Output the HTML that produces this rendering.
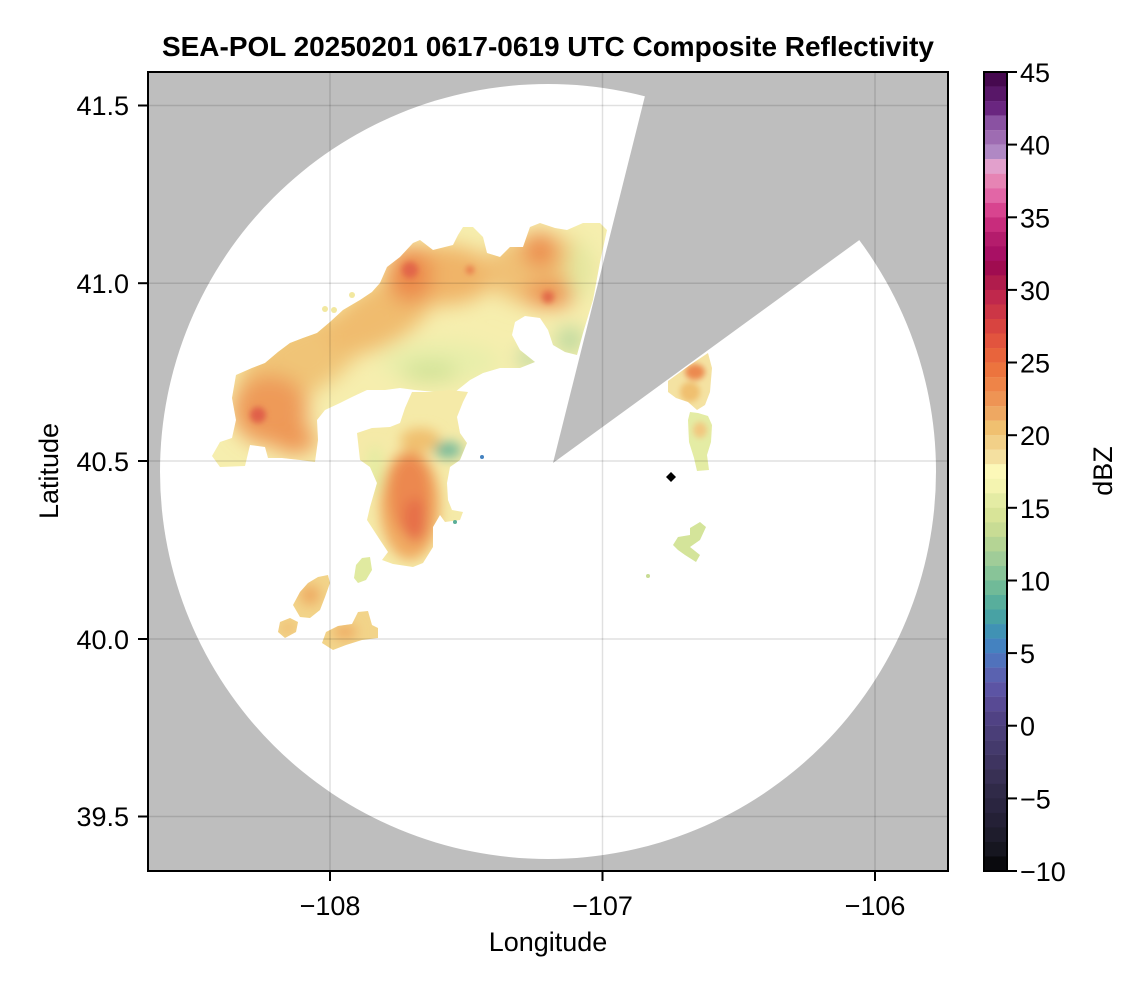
<!DOCTYPE html>
<html>
<head>
<meta charset="utf-8">
<style>
html,body{margin:0;padding:0;background:#fff;}
svg{display:block;}
text{font-family:"Liberation Sans",Arial,sans-serif;fill:#000;}
</style>
</head>
<body>
<svg width="1146" height="990" viewBox="0 0 1146 990" xmlns="http://www.w3.org/2000/svg">
<defs>
  <clipPath id="plot"><rect x="148" y="72" width="800" height="799"/></clipPath>
  <filter id="b10" x="-50%" y="-50%" width="200%" height="200%"><feGaussianBlur stdDeviation="10"/></filter>
  <filter id="b6" x="-50%" y="-50%" width="200%" height="200%"><feGaussianBlur stdDeviation="6"/></filter>
  <filter id="b3" x="-50%" y="-50%" width="200%" height="200%"><feGaussianBlur stdDeviation="3"/></filter>
  <clipPath id="cN"><polygon points="236,375 252,368 265,363 278,352 290,343 303,338 317,333 330,322 343,310 360,300 372,292 380,283 387,267 400,257 413,243 420,240 433,250 445,247 453,245 458,235 463,227 473,227 483,237 487,253 500,257 510,247 523,247 530,227 540,223 555,228 567,230 583,223 600,223 607,230 600,262 593,300 583,333 577,355 565,352 553,345 548,330 540,318 525,316 515,322 512,335 520,350 535,362 520,368 500,368 483,373 470,380 455,392 435,392 415,390 400,388 385,390 367,390 352,397 340,403 325,410 317,420 318,440 315,462 300,460 282,458 268,458 265,447 250,445 245,466 220,467 212,456 220,442 232,438 236,420 232,398"/></clipPath>
  <clipPath id="cC"><polygon points="357,433 372,428 390,427 400,423 405,408 412,392 430,392 450,390 468,392 463,402 457,417 460,433 467,443 460,460 450,467 447,483 448,500 452,510 463,512 460,520 445,522 440,515 433,527 433,547 423,563 413,567 393,564 382,560 388,552 380,540 367,520 370,507 377,483 370,467 360,460"/></clipPath>
  <clipPath id="cR1"><polygon points="668,381 690,365 708,353 712,368 710,392 705,405 697,410 688,402 676,398 668,392"/></clipPath>
  <clipPath id="cSW"><polygon points="300,617 293,605 300,592 308,583 318,577 328,575 330,583 325,597 320,610 310,618"/><polygon points="278,632 280,622 290,618 298,622 296,632 285,638"/><polygon points="322,643 326,632 338,626 352,624 358,612 368,611 372,625 378,628 378,638 362,640 346,645 333,650"/></clipPath>
</defs>

<!-- Title -->
<text x="548" y="56" text-anchor="middle" font-size="28" font-weight="bold" textLength="772" lengthAdjust="spacingAndGlyphs">SEA-POL 20250201 0617-0619 UTC Composite Reflectivity</text>

<!-- Plot area -->
<g clip-path="url(#plot)">
  <rect x="148" y="72" width="800" height="799" fill="#bebebe"/>
  <ellipse cx="548" cy="471.5" rx="388" ry="387.5" fill="#ffffff"/>
  <polygon points="553,463 651,72 948,72 948,175.5" fill="#bebebe"/>

  <!-- North band -->
  <g clip-path="url(#cN)">
    <rect x="200" y="210" width="420" height="270" fill="#f6eeae"/>
    <g filter="url(#b10)">
      <ellipse cx="300" cy="360" rx="70" ry="35" transform="rotate(-30 300 360)" fill="#f0c477"/>
      <ellipse cx="380" cy="315" rx="60" ry="30" transform="rotate(-30 380 315)" fill="#f0bc6e"/>
      <ellipse cx="440" cy="275" rx="55" ry="30" fill="#f0b468"/>
      <ellipse cx="540" cy="270" rx="55" ry="35" fill="#f0c074"/>
      <ellipse cx="270" cy="410" rx="38" ry="35" fill="#ee9a58"/>
      <ellipse cx="295" cy="440" rx="22" ry="14" fill="#ee9654"/>
      <ellipse cx="410" cy="275" rx="22" ry="28" fill="#ec8a4c"/>
      <ellipse cx="540" cy="250" rx="16" ry="18" fill="#ec8a4c"/>
      <ellipse cx="550" cy="295" rx="25" ry="12" fill="#ec8a4c"/>
      <ellipse cx="440" cy="362" rx="60" ry="20" fill="#e8eeaa"/>
      <ellipse cx="430" cy="372" rx="28" ry="10" fill="#cfe296"/>
      <ellipse cx="580" cy="270" rx="12" ry="30" fill="#e2eaa2"/>
      <ellipse cx="570" cy="340" rx="12" ry="12" fill="#a8d29a"/>
      <ellipse cx="530" cy="358" rx="12" ry="6" fill="#8cc69a"/>
    </g>
    <g filter="url(#b3)">
      <circle cx="258" cy="415" r="8" fill="#e0604a"/>
      <circle cx="410" cy="270" r="8" fill="#e2664a"/>
      <circle cx="548" cy="297" r="6" fill="#e26a4a"/>
      <circle cx="470" cy="270" r="4" fill="#e8764a"/>
    </g>
  </g>
  <circle cx="325" cy="309" r="3" fill="#f2e8a0"/>
  <circle cx="334" cy="310" r="3" fill="#f2e8a0"/>
  <circle cx="352" cy="295" r="3" fill="#f2e8a0"/>

  <!-- Central blob -->
  <g clip-path="url(#cC)">
    <rect x="350" y="385" width="125" height="190" fill="#f5eaa8"/>
    <g filter="url(#b6)">
      <ellipse cx="410" cy="505" rx="30" ry="55" fill="#f0aa62"/>
      <ellipse cx="410" cy="495" rx="20" ry="40" fill="#ec8850"/>
      <ellipse cx="415" cy="520" rx="12" ry="22" fill="#e6704a"/>
      <ellipse cx="420" cy="440" rx="20" ry="12" fill="#f0c070"/>
      <ellipse cx="448" cy="450" rx="14" ry="8" fill="#70b89a"/>
      <ellipse cx="375" cy="470" rx="8" ry="25" fill="#e4eca2"/>
    </g>
  </g>
  <circle cx="455" cy="522" r="2" fill="#5aae98"/>
  <circle cx="482" cy="457" r="2" fill="#4482c0"/>

  <!-- Southwest fragments -->
  <g clip-path="url(#cSW)">
    <rect x="270" y="570" width="115" height="85" fill="#f2d48a"/>
    <g filter="url(#b6)">
      <ellipse cx="310" cy="595" rx="10" ry="10" fill="#eeaa62"/>
      <ellipse cx="345" cy="632" rx="12" ry="7" fill="#eeaa62"/>
      <ellipse cx="288" cy="628" rx="6" ry="5" fill="#eeb066"/>
    </g>
  </g>
  <polygon points="354,578 356,565 362,558 370,557 372,570 366,580 358,583" fill="#e0eaa0"/>

  <!-- Right side pieces -->
  <g clip-path="url(#cR1)">
    <rect x="660" y="345" width="60" height="70" fill="#f4e2a2"/>
    <g filter="url(#b3)">
      <ellipse cx="695" cy="372" rx="10" ry="8" fill="#ec8a50"/>
      <ellipse cx="690" cy="392" rx="10" ry="10" fill="#f0c070"/>
    </g>
  </g>
  <polygon points="688,420 690,412 698,413 708,416 712,425 711,442 707,455 709,470 697,471 694,458 689,442" fill="#e4eca4"/>
  <ellipse cx="700" cy="430" rx="7" ry="8" fill="#f2c880" filter="url(#b3)"/>
  <polygon points="673,545 678,537 690,535 690,528 700,522 706,527 700,540 690,547 700,555 696,562 685,555 678,550" fill="#d4e49a"/>
  <circle cx="648" cy="576" r="2" fill="#c8dc94"/>

  <!-- Marker -->
  <polygon points="671,472 676,477 671,482 666,477" fill="#000"/>

  <!-- Grid -->
  <g stroke="rgba(0,0,0,0.12)" stroke-width="1.5">
    <line x1="330" y1="72" x2="330" y2="871"/>
    <line x1="602.5" y1="72" x2="602.5" y2="871"/>
    <line x1="875" y1="72" x2="875" y2="871"/>
    <line x1="148" y1="105.5" x2="948" y2="105.5"/>
    <line x1="148" y1="283.2" x2="948" y2="283.2"/>
    <line x1="148" y1="461" x2="948" y2="461"/>
    <line x1="148" y1="639" x2="948" y2="639"/>
    <line x1="148" y1="816.5" x2="948" y2="816.5"/>
  </g>
</g>
<rect x="148" y="72" width="800" height="799" fill="none" stroke="#000" stroke-width="2"/>

<!-- Axis ticks -->
<g stroke="#000" stroke-width="2">
  <line x1="138" y1="105.5" x2="148" y2="105.5"/>
  <line x1="138" y1="283.2" x2="148" y2="283.2"/>
  <line x1="138" y1="461" x2="148" y2="461"/>
  <line x1="138" y1="639" x2="148" y2="639"/>
  <line x1="138" y1="816.5" x2="148" y2="816.5"/>
  <line x1="330" y1="871" x2="330" y2="881"/>
  <line x1="602.5" y1="871" x2="602.5" y2="881"/>
  <line x1="875" y1="871" x2="875" y2="881"/>
</g>
<g font-size="27" text-anchor="end">
  <text x="129" y="115">41.5</text>
  <text x="129" y="293">41.0</text>
  <text x="129" y="471">40.5</text>
  <text x="129" y="649">40.0</text>
  <text x="129" y="826">39.5</text>
</g>
<g font-size="27" text-anchor="middle">
  <text x="330" y="915">−108</text>
  <text x="602.5" y="915">−107</text>
  <text x="875" y="915">−106</text>
  <text x="548" y="951">Longitude</text>
</g>
<text transform="translate(58,471) rotate(-90)" text-anchor="middle" font-size="27">Latitude</text>

<!-- Colorbar -->
<g>
  <rect x="984" y="72.0" width="23" height="14.7" fill="#46094f"/>
  <rect x="984" y="86.53" width="23" height="14.7" fill="#581768"/>
  <rect x="984" y="101.05" width="23" height="14.7" fill="#6a2680"/>
  <rect x="984" y="115.58" width="23" height="14.7" fill="#8a52a2"/>
  <rect x="984" y="130.11" width="23" height="14.7" fill="#9e6cb2"/>
  <rect x="984" y="144.64" width="23" height="14.7" fill="#b088c4"/>
  <rect x="984" y="159.16" width="23" height="14.7" fill="#e2a0cc"/>
  <rect x="984" y="173.69" width="23" height="14.7" fill="#e684b4"/>
  <rect x="984" y="188.22" width="23" height="14.7" fill="#e266a6"/>
  <rect x="984" y="202.75" width="23" height="14.7" fill="#d8448f"/>
  <rect x="984" y="217.27" width="23" height="14.7" fill="#c82c7c"/>
  <rect x="984" y="231.8" width="23" height="14.7" fill="#b41c6c"/>
  <rect x="984" y="246.33" width="23" height="14.7" fill="#a81064"/>
  <rect x="984" y="260.85" width="23" height="14.7" fill="#a00c50"/>
  <rect x="984" y="275.38" width="23" height="14.7" fill="#b01c4c"/>
  <rect x="984" y="289.91" width="23" height="14.7" fill="#c0284c"/>
  <rect x="984" y="304.44" width="23" height="14.7" fill="#cc3646"/>
  <rect x="984" y="318.96" width="23" height="14.7" fill="#d84440"/>
  <rect x="984" y="333.49" width="23" height="14.7" fill="#e2543e"/>
  <rect x="984" y="348.02" width="23" height="14.7" fill="#e8643c"/>
  <rect x="984" y="362.55" width="23" height="14.7" fill="#ec743e"/>
  <rect x="984" y="377.07" width="23" height="14.7" fill="#ee8448"/>
  <rect x="984" y="391.6" width="23" height="14.7" fill="#ee9454"/>
  <rect x="984" y="406.13" width="23" height="14.7" fill="#eea862"/>
  <rect x="984" y="420.65" width="23" height="14.7" fill="#f0c070"/>
  <rect x="984" y="435.18" width="23" height="14.7" fill="#f2d088"/>
  <rect x="984" y="449.71" width="23" height="14.7" fill="#f4e0a0"/>
  <rect x="984" y="464.24" width="23" height="14.7" fill="#fcf8b8"/>
  <rect x="984" y="478.76" width="23" height="14.7" fill="#f4f4b0"/>
  <rect x="984" y="493.29" width="23" height="14.7" fill="#e4eca4"/>
  <rect x="984" y="507.82" width="23" height="14.7" fill="#d8e498"/>
  <rect x="984" y="522.35" width="23" height="14.7" fill="#c8dc94"/>
  <rect x="984" y="536.87" width="23" height="14.7" fill="#b4d494"/>
  <rect x="984" y="551.4" width="23" height="14.7" fill="#a0cc98"/>
  <rect x="984" y="565.93" width="23" height="14.7" fill="#88c498"/>
  <rect x="984" y="580.45" width="23" height="14.7" fill="#70ba98"/>
  <rect x="984" y="594.98" width="23" height="14.7" fill="#58ae9c"/>
  <rect x="984" y="609.51" width="23" height="14.7" fill="#48a2a4"/>
  <rect x="984" y="624.04" width="23" height="14.7" fill="#4092b4"/>
  <rect x="984" y="638.56" width="23" height="14.7" fill="#4482c0"/>
  <rect x="984" y="653.09" width="23" height="14.7" fill="#5072bc"/>
  <rect x="984" y="667.62" width="23" height="14.7" fill="#5a62b0"/>
  <rect x="984" y="682.15" width="23" height="14.7" fill="#5c54a4"/>
  <rect x="984" y="696.67" width="23" height="14.7" fill="#584a94"/>
  <rect x="984" y="711.2" width="23" height="14.7" fill="#504284"/>
  <rect x="984" y="725.73" width="23" height="14.7" fill="#4a3e78"/>
  <rect x="984" y="740.25" width="23" height="14.7" fill="#443a6c"/>
  <rect x="984" y="754.78" width="23" height="14.7" fill="#3e3460"/>
  <rect x="984" y="769.31" width="23" height="14.7" fill="#383054"/>
  <rect x="984" y="783.84" width="23" height="14.7" fill="#302a48"/>
  <rect x="984" y="798.36" width="23" height="14.7" fill="#2a2540"/>
  <rect x="984" y="812.89" width="23" height="14.7" fill="#242036"/>
  <rect x="984" y="827.42" width="23" height="14.7" fill="#1e1c2c"/>
  <rect x="984" y="841.95" width="23" height="14.7" fill="#161620"/>
  <rect x="984" y="856.47" width="23" height="14.53" fill="#0a0a0e"/>
</g>
<rect x="984" y="72" width="23" height="799" fill="none" stroke="#000" stroke-width="2"/>
<g stroke="#000" stroke-width="2">
  <line x1="1007" y1="72" x2="1017" y2="72"/>
  <line x1="1007" y1="144.6" x2="1017" y2="144.6"/>
  <line x1="1007" y1="217.3" x2="1017" y2="217.3"/>
  <line x1="1007" y1="289.9" x2="1017" y2="289.9"/>
  <line x1="1007" y1="362.5" x2="1017" y2="362.5"/>
  <line x1="1007" y1="435.2" x2="1017" y2="435.2"/>
  <line x1="1007" y1="507.8" x2="1017" y2="507.8"/>
  <line x1="1007" y1="580.5" x2="1017" y2="580.5"/>
  <line x1="1007" y1="653.1" x2="1017" y2="653.1"/>
  <line x1="1007" y1="725.7" x2="1017" y2="725.7"/>
  <line x1="1007" y1="798.4" x2="1017" y2="798.4"/>
  <line x1="1007" y1="871" x2="1017" y2="871"/>
</g>
<g font-size="27" text-anchor="start">
  <text x="1020" y="82">45</text>
  <text x="1020" y="154.6">40</text>
  <text x="1020" y="227.3">35</text>
  <text x="1020" y="299.9">30</text>
  <text x="1020" y="372.5">25</text>
  <text x="1020" y="445.2">20</text>
  <text x="1020" y="517.8">15</text>
  <text x="1020" y="590.5">10</text>
  <text x="1020" y="663.1">5</text>
  <text x="1020" y="735.7">0</text>
  <text x="1020" y="808.4">−5</text>
  <text x="1020" y="881">−10</text>
</g>
<text transform="translate(1112,471) rotate(-90)" text-anchor="middle" font-size="27">dBZ</text>
</svg>
</body>
</html>
